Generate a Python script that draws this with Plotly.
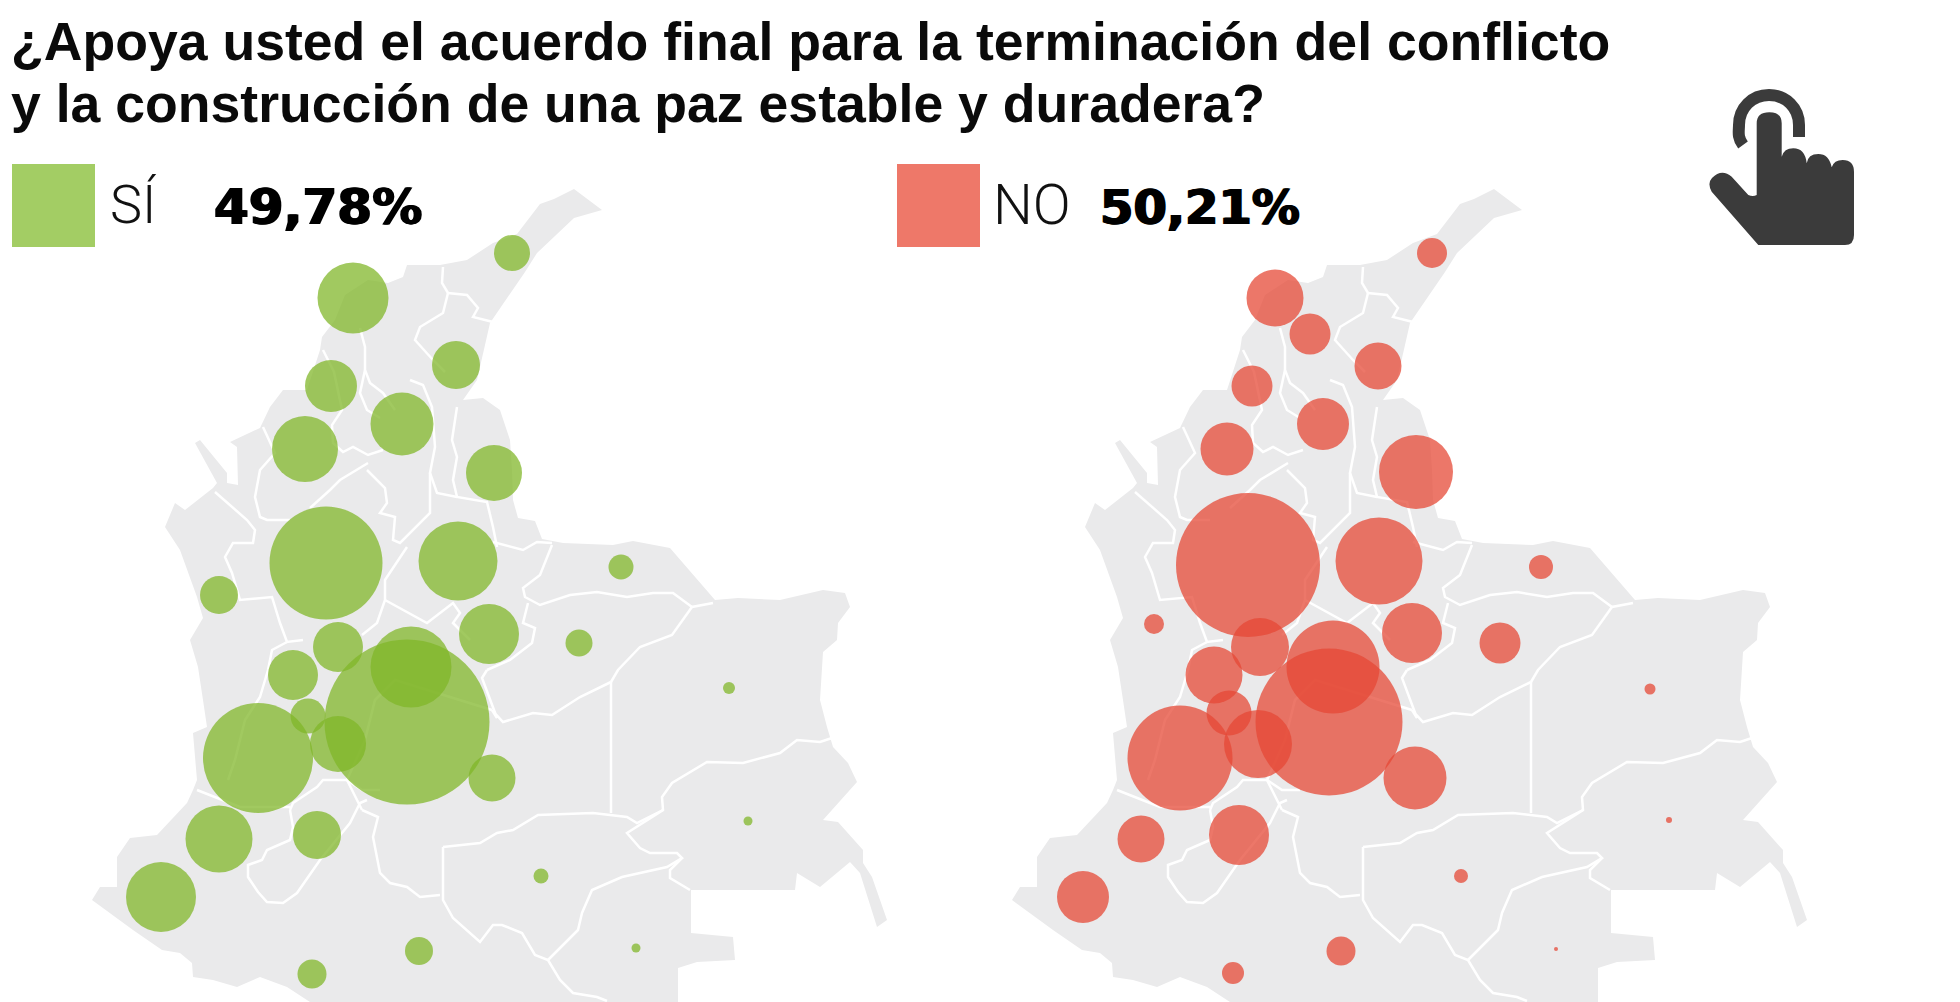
import plotly.graph_objects as go

# map outline, traced in picture units of the left panel
OUTLINE = [
    (574, 189), (602, 210), (574, 218), (537, 253), (525, 272), (490, 323), (477, 380), (463, 400),
    (483, 398), (500, 410), (510, 440), (512, 470), (513, 500), (518, 518), (535, 521), (542, 539),
    (563, 543), (613, 545), (633, 541), (670, 548), (715, 600), (738, 598), (780, 600), (823, 590),
    (845, 593), (850, 607), (838, 623), (837, 640), (823, 652), (820, 700), (827, 727), (833, 747),
    (848, 763), (857, 782), (823, 820), (838, 822), (863, 850), (863, 863), (872, 877), (887, 920),
    (877, 927), (860, 873), (850, 862), (820, 887), (797, 873), (795, 890), (691, 890), (691, 933),
    (733, 937), (735, 960), (697, 962), (678, 968), (678, 1002), (310, 1002), (287, 987), (260, 977),
    (237, 987), (213, 980), (193, 977), (192, 963), (180, 953), (162, 950), (133, 930), (110, 913),
    (92, 900), (100, 887), (117, 887), (117, 857), (130, 838), (157, 835), (187, 803), (193, 790),
    (197, 780), (193, 733), (207, 727), (203, 700), (198, 667), (190, 640), (203, 618), (197, 597),
    (180, 550), (165, 527), (175, 503), (185, 510), (213, 488), (217, 483), (195, 443), (200, 440),
    (227, 473), (227, 483), (238, 485), (237, 447), (230, 442), (260, 428), (270, 407), (283, 390),
    (307, 390), (320, 350), (322, 337), (335, 320), (345, 295), (368, 280), (388, 283), (403, 277),
    (407, 265), (440, 265), (467, 260), (493, 243), (517, 234), (540, 204), (554, 199),
]

# department borders
BORDERS = [
    [(443, 267), (442, 283), (448, 293), (467, 295), (478, 308), (473, 317), (493, 322)],
    [(448, 293), (443, 313), (420, 327), (415, 340), (433, 360), (445, 372)],
    [(410, 380), (423, 385), (432, 407), (435, 447), (430, 473), (437, 493), (457, 497)],
    [(360, 328), (365, 347), (365, 370), (370, 383), (383, 393), (395, 410)],
    [(365, 370), (360, 393), (367, 410), (380, 418)],
    [(323, 350), (334, 372), (342, 410), (332, 425), (333, 443), (343, 452), (353, 447), (368, 455), (383, 450)],
    [(368, 463), (357, 470), (340, 480), (330, 490), (310, 508)],
    [(367, 470), (385, 488), (387, 503), (380, 513), (395, 517), (393, 540), (400, 543), (430, 513), (430, 473)],
    [(263, 427), (270, 443), (275, 453), (260, 470), (255, 497), (260, 517), (267, 520), (290, 520)],
    [(215, 492), (247, 520), (255, 530), (253, 543), (233, 543), (225, 557), (232, 573), (240, 600), (272, 597),
     (280, 623), (287, 642), (303, 640)],
    [(287, 642), (272, 650), (268, 670), (260, 697), (245, 720), (235, 760), (228, 780)],
    [(197, 790), (240, 807), (290, 807)],
    [(290, 810), (293, 803), (317, 787), (323, 780), (347, 780), (362, 790), (380, 790)],
    [(290, 810), (293, 827), (290, 840), (267, 850), (262, 860), (248, 865), (248, 877), (258, 892), (267, 902),
     (283, 903), (297, 893), (320, 860), (350, 823), (360, 803), (367, 800)],
    [(362, 810), (378, 817), (373, 837), (380, 873), (390, 883), (407, 887), (420, 897), (440, 895)],
    [(443, 847), (443, 900), (453, 918), (480, 942), (493, 925), (502, 925), (522, 933), (535, 955), (548, 960),
     (560, 980), (573, 993), (597, 997), (607, 1001)],
    [(548, 960), (578, 930), (582, 913), (592, 890), (622, 877), (667, 867), (682, 858), (677, 853), (650, 853),
     (640, 848), (627, 833), (663, 810), (662, 797), (672, 783), (707, 762), (743, 763), (780, 753), (797, 740),
     (820, 742), (832, 738)],
    [(682, 858), (670, 870), (670, 878), (690, 890)],
    [(443, 847), (480, 843), (497, 833), (513, 830), (538, 815), (593, 813), (627, 817), (637, 823), (663, 810)],
    [(611, 682), (611, 813)],
    [(611, 682), (580, 697), (552, 715), (533, 713), (503, 722), (492, 710), (497, 718), (482, 678), (487, 670)],
    [(611, 682), (618, 670), (640, 647), (672, 635), (692, 607), (713, 603)],
    [(692, 607), (673, 593), (653, 593), (627, 597), (597, 592), (570, 595), (540, 605), (525, 597), (523, 588),
     (540, 575), (552, 545)],
    [(493, 542), (523, 550), (537, 542), (552, 543)],
    [(528, 603), (523, 623), (535, 628), (532, 643), (510, 660), (487, 670)],
    [(457, 407), (452, 440), (457, 457), (453, 480), (457, 497), (487, 502), (493, 527), (497, 547)],
    [(407, 547), (385, 580), (385, 600), (377, 623), (362, 635)],
    [(385, 600), (403, 610), (427, 623), (453, 603), (460, 613), (453, 623), (470, 640)],
    [(362, 810), (347, 780), (365, 740), (375, 700), (395, 680), (427, 690), (460, 700), (492, 710)],
]

# circles: one row per department, picture position and diameter
DEPTS_SI = [
    "La Guajira", "Atlántico", "Magdalena", "Bolívar", "Cesar norte", "Córdoba", "Norte de Santander",
    "Antioquia", "Santander", "Chocó", "Boyacá", "Casanare", "Arauca", "Caldas", "Cundinamarca",
    "Risaralda", "Quindío", "Bogotá", "Tolima", "Valle", "Meta", "Cauca", "Huila", "Nariño",
    "Caquetá", "Guaviare", "Putumayo", "Vichada", "Guainía", "Vaupés",
]
SI_X = [512, 353, 456, 331, 402, 305, 494, 326, 458, 219, 489, 579, 621, 338, 411, 293, 308, 407, 338, 258, 492,
        219, 317, 161, 541, 419, 312, 729, 748, 636]
SI_Y = [253, 298, 365, 386, 424, 449, 473, 563, 561, 595, 634, 643, 567, 647, 667, 675, 716, 722, 744, 758, 778,
        839, 835, 897, 876, 951, 974, 688, 821, 948]
SI_D = [36, 71, 48, 52, 63, 66, 56, 113, 79, 38, 60, 27, 25, 50, 81, 50, 35, 165, 56, 110, 47,
        67, 48, 70, 15, 28, 29, 12, 9, 9]

DEPTS_NO = [
    "La Guajira", "Atlántico", "Sucre", "Magdalena", "Bolívar", "Cesar norte", "Córdoba", "Norte de Santander",
    "Antioquia", "Santander", "Chocó", "Boyacá", "Casanare", "Arauca", "Caldas", "Cundinamarca",
    "Risaralda", "Quindío", "Bogotá", "Tolima", "Valle", "Meta", "Cauca", "Huila", "Nariño",
    "Caquetá", "Guaviare", "Putumayo", "Vichada", "Guainía", "Vaupés",
]
NO_X = [512, 355, 390, 458, 332, 403, 307, 496, 328, 459, 234, 492, 580, 621, 340, 413, 294, 309, 409, 338, 260,
        495, 221, 319, 163, 541, 421, 313, 730, 749, 636]
NO_Y = [253, 298, 334, 366, 386, 424, 449, 472, 565, 561, 624, 633, 643, 567, 647, 667, 675, 713, 722, 744, 758,
        778, 839, 835, 897, 876, 951, 973, 689, 820, 949]
NO_D = [30, 57, 41, 47, 41, 52, 53, 74, 144, 87, 20, 60, 41, 24, 58, 93, 57, 45, 147, 68, 105,
        63, 47, 60, 52, 14, 29, 22, 11, 6, 4]

TITLE_LINES = [
    "¿Apoya usted el acuerdo final para la terminación del conflicto",
    "y la construcción de una paz estable y duradera?",
]
SI_PCT = "49,78%"
NO_PCT = "50,21%"

W, H = 1960, 1002
SPLIT = 920
GREY = "#eaeaeb"


def px_x(x):
    return x / W


def px_y(y):
    return 1 - y / H


def border_xy():
    xs, ys = [], []
    for line in BORDERS:
        xs += [p[0] for p in line] + [None]
        ys += [p[1] for p in line] + [None]
    return xs, ys


fig = go.Figure()
bx, by = border_xy()

for xa, xvals, yvals, dvals, names, color in [
    ("x", SI_X, SI_Y, SI_D, DEPTS_SI, "rgba(128,182,40,0.74)"),
    ("x2", NO_X, NO_Y, NO_D, DEPTS_NO, "rgba(230,72,52,0.74)"),
]:
    fig.add_trace(go.Scatter(
        x=[p[0] for p in OUTLINE], y=[p[1] for p in OUTLINE],
        xaxis=xa, yaxis="y", mode="lines", fill="toself", fillcolor=GREY,
        line=dict(width=0, color=GREY), hoverinfo="skip",
    ))
    fig.add_trace(go.Scatter(
        x=bx, y=by, xaxis=xa, yaxis="y", mode="lines",
        line=dict(color="white", width=2.5), hoverinfo="skip",
    ))
    fig.add_trace(go.Scatter(
        x=xvals, y=yvals, xaxis=xa, yaxis="y", mode="markers", text=names,
        marker=dict(size=dvals, sizemode="diameter", color=color, opacity=1, line=dict(width=0)),
        hovertemplate="%{text}<extra></extra>",
    ))

title_font = dict(family="Liberation Sans", size=53.6, color="#0a0a0a", weight="bold")
annotations = []
for text, y in zip(TITLE_LINES, [41, 103]):
    annotations.append(dict(text=text, x=px_x(9), y=px_y(y), font=title_font))
light = dict(family="Roboto", size=54, color="#111111", weight=300)
heavy = dict(family="DejaVu Sans", size=50, color="black", weight="bold",
             shadow="1px 0 0 #000, -1px 0 0 #000")
annotations.append(dict(text="SÍ", x=px_x(108), y=px_y(205), font=light))
annotations.append(dict(text=SI_PCT, x=px_x(212), y=px_y(207), font=heavy))
annotations.append(dict(text="NO", x=px_x(991), y=px_y(205), font=dict(light, size=56)))
annotations.append(dict(text=NO_PCT, x=px_x(1098), y=px_y(207), font=dict(heavy, size=48)))
for a in annotations:
    a.update(xref="paper", yref="paper", xanchor="left", yanchor="middle", showarrow=False)

HAND = (
    "M836.7,123.3 Q836.7,112.3 849.3,112.3 Q861.7,112.3 861.7,123.3 L861.7,156.7 "
    "Q864,148.3 873.3,148.3 Q885,148.3 886.7,163.3 Q888,154 898.3,154 Q909,154 911.7,167.3 "
    "Q914,160 922.7,160 Q934,160 934,172 L934,235 Q934,245 925,245 L838.3,245 L791.7,191.7 "
    "Q787,183.3 792,178 Q801.7,168 811.7,176.7 L828.3,195 Q833,197 836.7,195 Z"
)
RING = (
    "M823,145 C817,137 819,131 819,125 C819,108 832,95 849,95 "
    "C866,95 879,108 879,125 L879,137"
)

shapes = [
    dict(type="rect", xref="paper", yref="paper", x0=px_x(12), x1=px_x(95), y0=px_y(164), y1=px_y(247),
         fillcolor="#a3cd64", line=dict(width=0)),
    dict(type="rect", xref="paper", yref="paper", x0=px_x(897), x1=px_x(980), y0=px_y(164), y1=px_y(247),
         fillcolor="#ee7869", line=dict(width=0)),
    dict(type="path", xref="x2", yref="y", path=HAND, fillcolor="#3b3b3b", line=dict(width=0)),
    dict(type="path", xref="x2", yref="y", path=RING, line=dict(color="#3b3b3b", width=12)),
]

hidden = dict(visible=False, fixedrange=True)
fig.update_layout(
    width=W, height=H,
    margin=dict(l=0, r=0, t=0, b=0),
    paper_bgcolor="white", plot_bgcolor="white",
    showlegend=False,
    xaxis=dict(domain=[0, SPLIT / W], range=[0, SPLIT], anchor="y", **hidden),
    xaxis2=dict(domain=[SPLIT / W, 1], range=[0, W - SPLIT], anchor="y", **hidden),
    yaxis=dict(domain=[0, 1], range=[H, 0], **hidden),
    annotations=annotations,
    shapes=shapes,
)

fig.write_html("out.html", config={"displayModeBar": False},
               post_script="document.body.style.margin='0';")
